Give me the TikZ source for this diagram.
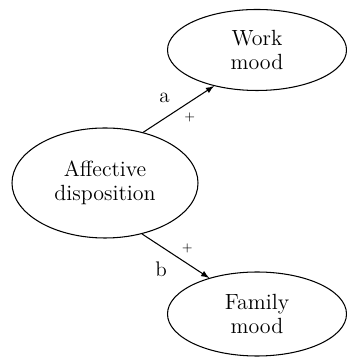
\documentclass[tikz,border=0pt]{standalone}
\usepackage{tikz}
\usetikzlibrary{shapes,arrows,positioning}

\begin{document}
\begin{tikzpicture}[
    var/.style={ellipse, draw, semithick, inner sep=0pt, align=center,
                font=\fontsize{12.5}{13.5}\selectfont},
    arrow/.style={-latex, semithick},
    lbl/.style={font=\large, inner sep=1pt},
    sign/.style={font=\scriptsize, inner sep=1pt}
]
    \useasboundingbox (0,0) rectangle (6.94,7.14);

    % variables
    \node[var, minimum width=3.72cm, minimum height=2.2cm] (aff) at (2.10,3.48) {Affective\\disposition};
    \node[var, minimum width=3.58cm, minimum height=1.62cm] (work) at (5.14,6.14) {Work\\mood};
    \node[var, minimum width=3.58cm, minimum height=1.68cm] (fam) at (5.14,0.86) {Family\\mood};

    % paths
    \draw[arrow] (aff.53) -- node[pos=0.43, lbl, above left=4pt and 1pt] {a}
                             node[pos=0.55, sign, below right=2pt and 0pt] {+} (work.220);
    \draw[arrow] (aff.-54) -- node[pos=0.56, sign, above right=2pt and 0pt] {+}
                              node[pos=0.43, lbl, below left=4pt and 1pt] {b} (fam.143);

\end{tikzpicture}
\end{document}
